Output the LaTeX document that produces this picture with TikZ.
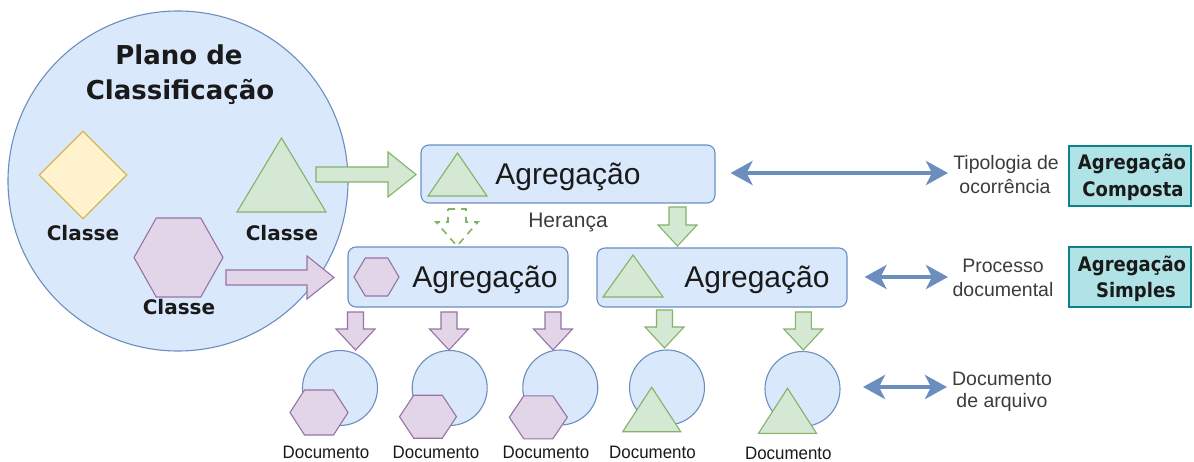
\documentclass[tikz,border=0pt]{standalone}
\usepackage{fontspec}
\setmainfont{Liberation Sans}
\newfontfamily\heavy{DejaVu Sans}
\newfontfamily\heavynarrow[FakeStretch=0.9]{DejaVu Sans}
\newfontfamily\narrowsans[FakeStretch=0.94]{Liberation Sans}
\usetikzlibrary{shapes.geometric,arrows.meta}

\definecolor{bfill}{HTML}{DAE8FC}
\definecolor{bline}{HTML}{6C8EBF}
\definecolor{gfill}{HTML}{D5E8D4}
\definecolor{gline}{HTML}{82B366}
\definecolor{pfill}{HTML}{E1D5E7}
\definecolor{pline}{HTML}{9673A6}
\definecolor{yfill}{HTML}{FFF2CC}
\definecolor{yline}{HTML}{D6B656}
\definecolor{tfill}{HTML}{B0E3E6}
\definecolor{tline}{HTML}{0E8088}
\definecolor{ink}{HTML}{1A1A1A}

% block arrow pointing right: style, tail x, centre y, shaft half-width, head half-width, head start x, tip x
\newcommand{\blockright}[7]{%
  \draw[#1] (#2,#3-#4) -- (#6,#3-#4) -- (#6,#3-#5) -- (#7,#3) -- (#6,#3+#5) -- (#6,#3+#4) -- (#2,#3+#4) -- cycle;}
% block arrow pointing down: style, centre x, top y, shaft half-width, head half-width, head start y, tip y
\newcommand{\blockdown}[7]{%
  \draw[#1] (#2-#4,#3) -- (#2+#4,#3) -- (#2+#4,#6) -- (#2+#5,#6) -- (#2,#7) -- (#2-#5,#6) -- (#2-#4,#6) -- cycle;}
% hexagon with flat top and bottom: style, centre x, centre y, width, height
\newcommand{\hexshape}[5]{%
  \draw[#1] (#2-#4/2,#3) -- (#2-#4/4,#3-#5/2) -- (#2+#4/4,#3-#5/2) -- (#2+#4/2,#3) -- (#2+#4/4,#3+#5/2) -- (#2-#4/4,#3+#5/2) -- cycle;}
% upright triangle: style, centre x, base y, width, height
\newcommand{\trishape}[5]{%
  \draw[#1] (#2-#4/2,#3) -- (#2,#3-#5) -- (#2+#4/2,#3) -- cycle;}

\begin{document}
\begin{tikzpicture}[x=1pt,y=-1pt,
  shapeline/.style={line width=1.1pt, line join=miter},
  bshape/.style={shapeline, draw=bline, fill=bfill},
  gshape/.style={shapeline, draw=gline, fill=gfill},
  pshape/.style={shapeline, draw=pline, fill=pfill},
  yshape/.style={shapeline, draw=yline, fill=yfill},
  gdashed/.style={line width=1.6pt, draw=gline, dash pattern=on 7pt off 6pt},
  bigdisc/.style={bshape, circle, inner sep=0pt},
  docdisc/.style={bshape, circle, inner sep=0pt, minimum size=75pt},
  aggbox/.style={bshape, rounded corners=8pt, inner sep=0pt},
  tealbox/.style={shapeline, draw=tline, fill=tfill, inner sep=0pt, minimum width=122pt, minimum height=60pt},
  bluelink/.style={draw=bline, line width=4pt,
    {Stealth[length=22pt,width=24pt,inset=6pt]}-{Stealth[length=22pt,width=24pt,inset=6pt]}},
  base/.style={anchor=base, inner sep=0pt},
  titletext/.style={base, text=ink, font=\heavy\bfseries\fontsize{26}{32}\selectfont},
  classtext/.style={base, text=ink, font=\heavy\bfseries\fontsize{20}{24}\selectfont},
  tealtext/.style={base, text=ink, font=\heavynarrow\bfseries\fontsize{20}{24}\selectfont},
  aggtext/.style={base, text=ink, font=\fontsize{30}{36}\selectfont},
  labeltext/.style={base, text=ink!85, font=\fontsize{19.5}{24}\selectfont},
  doctext/.style={base, text=ink, font=\narrowsans\fontsize{18}{22}\selectfont}
]
\useasboundingbox (0,0) rectangle (1194,462);

% classification plan
\node[bigdisc, minimum size=340pt] (plano) at (178,181) {};
\node[titletext] (titleA) at (179,65) {Plano de};
\node[titletext] (titleB) at (180,100) {Classificação};

\node[yshape, diamond, inner sep=0pt, minimum width=88pt, minimum height=88pt] (classY) at (83,175) {};
\node[classtext] (classYt) at (83,241) {Classe};
\trishape{gshape}{281.5}{212}{89}{74}
\node[classtext] (classGt) at (282,241) {Classe};
\hexshape{pshape}{178.5}{257.5}{89}{79}
\node[classtext] (classPt) at (179,315) {Classe};

% class to aggregation
\blockright{gshape}{316}{174.5}{7.5}{22.5}{388}{416}
\blockright{pshape}{226}{277.5}{7.5}{21.5}{307}{334}

% composite aggregation
\node[aggbox, minimum width=294pt, minimum height=58pt] (aggTop) at (568,174) {};
\trishape{gshape}{457.5}{196}{59}{43}
\node[aggtext] (aggTopt) at (568,185) {Agregação};

% inheritance
\node[labeltext, font=\fontsize{21}{25}\selectfont] (heranca) at (568,228) {Herança};
\blockdown{gdashed}{457}{209}{9}{21}{222}{246}
\blockdown{gshape}{677.5}{207}{8.5}{19.5}{225}{246}

% simple aggregations
\node[aggbox, minimum width=220pt, minimum height=60pt] (aggLeft) at (458,277) {};
\hexshape{pshape}{376.5}{277}{45}{38}
\node[aggtext] (aggLeftt) at (485,288) {Agregação};

\node[aggbox, minimum width=250pt, minimum height=59pt] (aggRight) at (722,277.5) {};
\trishape{gshape}{633}{297}{60}{42}
\node[aggtext] (aggRightt) at (757,288) {Agregação};

% aggregation to documents
\blockdown{pshape}{355.5}{312}{8}{19.5}{329}{350}
\blockdown{pshape}{449}{312}{8}{19.5}{329}{350}
\blockdown{pshape}{553}{312}{8}{19.5}{329}{350}
\blockdown{gshape}{664.5}{310}{8}{19.5}{327}{348}
\blockdown{gshape}{803.3}{312}{8}{19.5}{329}{350}

% documents
\node[docdisc] (doc1) at (340,388) {};
\hexshape{pshape}{319}{412.5}{58}{45}
\node[doctext] (doc1t) at (326,458) {Documento};

\node[docdisc] (doc2) at (449.7,388) {};
\hexshape{pshape}{428}{416.7}{57}{43}
\node[doctext] (doc2t) at (436,458) {Documento};

\node[docdisc] (doc3) at (560.3,387.5) {};
\hexshape{pshape}{538.3}{417.3}{58}{43}
\node[doctext] (doc3t) at (546,458) {Documento};

\node[docdisc] (doc4) at (667,387.5) {};
\trishape{gshape}{651.7}{431.7}{58}{44.5}
\node[doctext] (doc4t) at (652.5,458) {Documento};

\node[docdisc] (doc5) at (802.5,389) {};
\trishape{gshape}{787.5}{433.3}{58}{45}
\node[doctext] (doc5t) at (788.3,459.5) {Documento};

% level legend
\node[labeltext] (typA) at (1006,170) {Tipologia de};
\node[labeltext] (typB) at (1005,194) {ocorrência};
\node[labeltext] (procA) at (1003,273) {Processo};
\node[labeltext] (procB) at (1003,297) {documental};
\node[labeltext] (arqA) at (1002,385) {Documento};
\node[labeltext] (arqB) at (1002,407) {de arquivo};

\coordinate (typEnd) at (948,173);
\coordinate (procEnd) at (948,277);
\coordinate (arqStart) at (863,387);
\coordinate (arqEnd) at (947,387);
\draw[bluelink] ([xshift=15pt]aggTop.east |- typEnd) -- (typEnd);
\draw[bluelink] ([xshift=17pt]aggRight.east |- procEnd) -- (procEnd);
\draw[bluelink] (arqStart) -- (arqEnd);

% aggregation kinds
\node[tealbox] (kindA) at (1130,176) {};
\node[tealtext] (kindAa) at (1132,170) {Agregação};
\node[tealtext] (kindAb) at (1133,197) {Composta};
\node[tealbox] (kindB) at (1130,277) {};
\node[tealtext] (kindBa) at (1132,272) {Agregação};
\node[tealtext] (kindBb) at (1136,298) {Simples};
\end{tikzpicture}
\end{document}
